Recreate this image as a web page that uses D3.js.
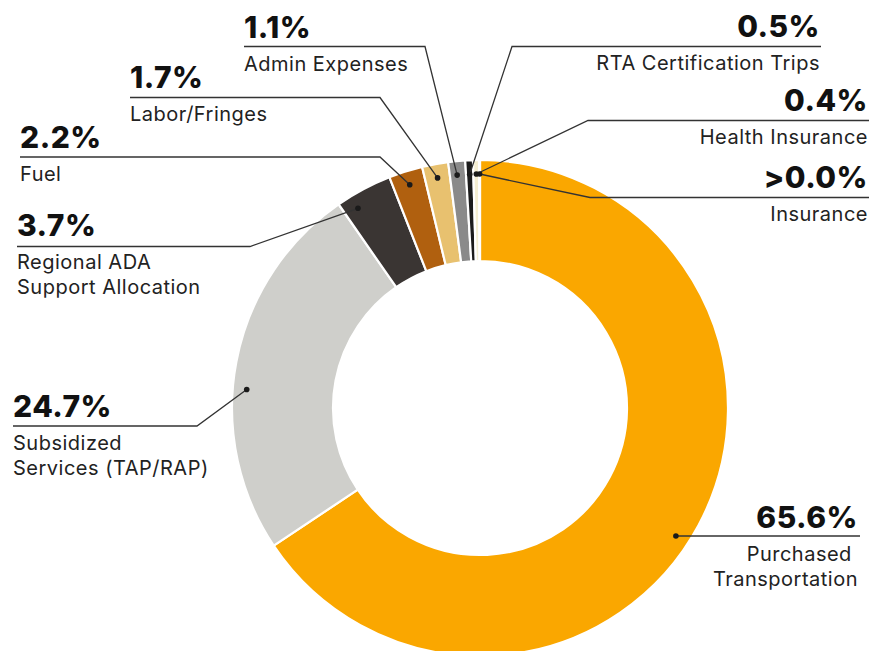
<!DOCTYPE html>
<html>
<head>
<meta charset="utf-8">
<script src="https://cdn.jsdelivr.net/npm/d3@7"></script>
<style>
  body { margin: 0; background: #fff; }
  svg { display: block; }
  .pct { font-family: Inter, "Noto Sans", sans-serif; font-weight: 800; font-size: 30px; fill: #111; letter-spacing: 0.5px; }
  .lbl { font-family: Inter, "Noto Sans", sans-serif; font-size: 20px; fill: #222; letter-spacing: 0.5px; }
</style>
</head>
<body>
<div class="canvas"></div>
<script>
// data, clockwise from 12 o'clock
const categories = ["Purchased Transportation", "Subsidized Services (TAP/RAP)", "Regional ADA Support Allocation",
    "Fuel", "Labor/Fringes", "Admin Expenses", "RTA Certification Trips", "Health Insurance", "Insurance"];
const values = [65.6, 24.7, 3.7, 2.2, 1.7, 1.1, 0.5, 0.4, 0.05];
const valueLabels = ["65.6%", "24.7%", "3.7%", "2.2%", "1.7%", "1.1%", "0.5%", "0.4%", ">0.0%"];
const labelLines = [["Purchased\u00a0", "Transportation"], ["Subsidized", "Services (TAP/RAP)"], ["Regional ADA", "Support Allocation"],
    ["Fuel"], ["Labor/Fringes"], ["Admin Expenses"], ["RTA Certification Trips"], ["Health Insurance"], ["Insurance"]];
const colours = ["#FAA700", "#CFCFCB", "#3A3533", "#B0600F", "#E8C16F", "#8A8A8A", "#1B1B1B", "#F4EED2", "#BDBDBD"];

// label layout (x, pct baseline, rule y, elbow x, side, where the dot sits along the slice)
const layout = [
    { x: 858, y: 528, rule: 536, elbow: null, side: "right", at: 0.5 },
    { x: 13, y: 417, rule: 426, elbow: 197, side: "left", at: 0.43 },
    { x: 17, y: 236, rule: 246.5, elbow: 250, side: "left", at: 0.25 },
    { x: 20, y: 148, rule: 157, elbow: 380, side: "left", at: 0.5 },
    { x: 130, y: 88, rule: 97.5, elbow: 380, side: "left", at: 0.5 },
    { x: 244, y: 38, rule: 46.5, elbow: 425, side: "left", at: 0.45 },
    { x: 820, y: 37, rule: 46.5, elbow: 512, side: "right", at: 0.5 },
    { x: 868, y: 111, rule: 120.5, elbow: 588, side: "right", at: 0.5 },
    { x: 868, y: 188, rule: 197.5, elbow: 590, side: "right", at: 0.5 }
];

const width = 871;
const height = 651;
const cx = 480, cy = 408;
const outerR = 248, innerR = 147, dotR = 234;

const svg = d3.select(".canvas")
    .append("svg")
    .attr("width", width)
    .attr("height", height);

const data = categories.map((name, i) => ({ name, value: values[i], i }));

const pie = d3.pie()
    .sort(null)
    .value(d => d.value);

const arc = d3.arc()
    .innerRadius(innerR)
    .outerRadius(outerR);

const graph = svg.append("g")
    .attr("transform", `translate(${cx}, ${cy})`);

const arcs = pie(data);

graph.selectAll("path")
    .data(arcs)
    .enter()
    .append("path")
    .attr("d", arc)
    .attr("fill", d => colours[d.data.i])
    .attr("stroke", "#fff")
    .attr("stroke-width", 2.2)
    .attr("stroke-linejoin", "round");

// dot position on each slice
const dotPos = (d, L) => {
    if (L.elbow === null) {
        // straight rule: dot where the rule crosses the ring
        const dy = L.rule - cy;
        return [cx + Math.sqrt(dotR * dotR - dy * dy), L.rule];
    }
    const a = d.startAngle + (d.endAngle - d.startAngle) * L.at;
    return [cx + dotR * Math.sin(a), cy - dotR * Math.cos(a)];
};

const labels = svg.append("g");

arcs.forEach(d => {
    const i = d.data.i;
    const L = layout[i];
    const [dx, dy] = dotPos(d, L);
    const right = L.side === "right";
    const anchor = right ? "end" : "start";

    // leader line: rule under the percentage, then to the dot
    const pts = L.elbow === null
        ? [[right ? L.x + 2 : L.x, L.rule], [dx, dy]]
        : [[right ? L.x + 1 : L.x, L.rule], [L.elbow, L.rule], [dx, dy]];
    labels.append("path")
        .attr("d", d3.line()(pts))
        .attr("fill", "none")
        .attr("stroke", "#333")
        .attr("stroke-width", 1.3);

    labels.append("circle")
        .attr("cx", dx)
        .attr("cy", dy)
        .attr("r", 2.8)
        .attr("fill", "#1a1a1a");

    labels.append("text")
        .attr("class", "pct")
        .attr("x", L.x)
        .attr("y", L.y)
        .attr("text-anchor", anchor)
        .text(valueLabels[i]);

    labelLines[i].forEach((line, k) => {
        labels.append("text")
            .attr("class", "lbl")
            .attr("x", L.x)
            .attr("y", L.y + 33 + k * 25)
            .attr("text-anchor", anchor)
            .attr("xml:space", "preserve")
            .text(line);
    });
});
</script>
</body>
</html>
